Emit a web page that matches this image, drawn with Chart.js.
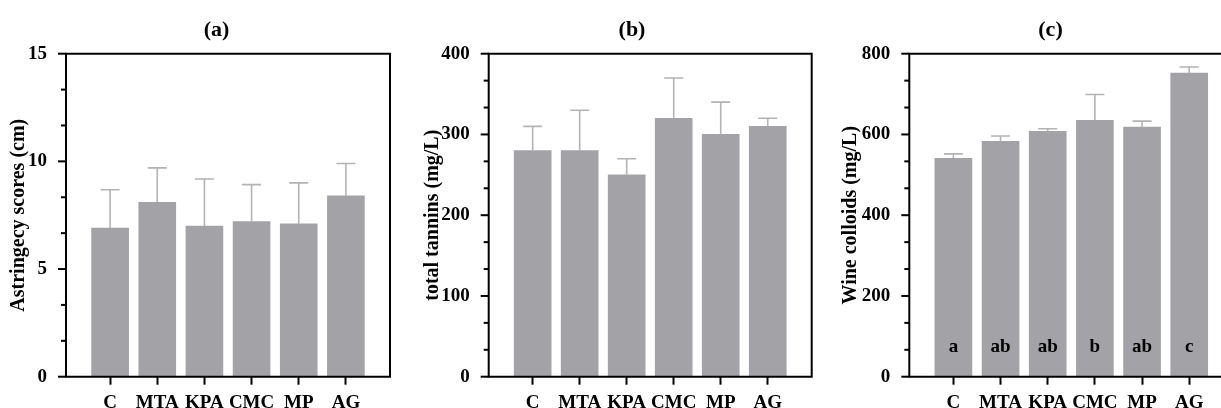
<!DOCTYPE html>
<html>
<head>
<meta charset="utf-8">
<script src="https://cdn.jsdelivr.net/npm/chart.js@4/dist/chart.umd.min.js"></script>
<style>
  html, body { margin: 0; padding: 0; background: #fff; width: 1221px; height: 408px; overflow: hidden; position: relative; }
  canvas { position: absolute; top: 0; }
</style>
</head>
<body>
<canvas id="panelA" width="433" height="408" style="left:0px"></canvas>
<canvas id="panelB" width="444" height="408" style="left:410px"></canvas>
<canvas id="panelC" width="461" height="408" style="left:820px"></canvas>
<script>
// Treatments shared by all three panels
const treatments = ['C', 'MTA', 'KPA', 'CMC', 'MP', 'AG'];

// (a) astringency scores, mean and SD
const astringencyMean = [6.9, 8.1, 7.0, 7.2, 7.1, 8.4];
const astringencySD   = [1.78, 1.6, 2.18, 1.72, 1.9, 1.5];
const astringencyTicks = [0, 5, 10, 15];

// (b) total tannins, mean and SD
const tanninsMean = [280, 280, 250, 320, 300, 310];
const tanninsSD   = [30, 50, 20, 50, 40, 10];
const tanninsTicks = [0, 100, 200, 300, 400];

// (c) wine colloids, mean, SD and significance groups
const colloidsMean = [541, 583, 608, 635, 618, 752];
const colloidsSD   = [11, 13, 6, 64, 15, 15];
const colloidsGroups = ['a', 'ab', 'ab', 'b', 'ab', 'c'];
const colloidsTicks = [0, 200, 400, 600, 800];

const FAMILY = "'Liberation Serif', 'Times New Roman', serif";
const BAR_COLOR = '#a3a2a7';
const ERR_COLOR = '#b3b3b3';

// Frame, y tick marks, error bars, group letters and panel title
const panelDecor = {
  id: 'panelDecor',
  afterDatasetsDraw(chart) {
    const { ctx, chartArea: a, scales: { x, y } } = chart;
    const cfg = chart.options.plugins.panelDecor;
    ctx.save();

    // error bars (upper half)
    ctx.strokeStyle = ERR_COLOR;
    ctx.lineWidth = 1.6;
    cfg.means.forEach((m, i) => {
      const px = x.getPixelForValue(i);
      const y0 = y.getPixelForValue(m);
      const y1 = y.getPixelForValue(m + cfg.sd[i]);
      ctx.beginPath();
      ctx.moveTo(px, y0);
      ctx.lineTo(px, y1);
      ctx.moveTo(px - 9.5, y1);
      ctx.lineTo(px + 9.5, y1);
      ctx.stroke();
    });

    // group letters
    if (cfg.groups) {
      ctx.fillStyle = '#000';
      ctx.font = `bold 19px ${FAMILY}`;
      ctx.textAlign = 'center';
      ctx.textBaseline = 'alphabetic';
      cfg.groups.forEach((g, i) => {
        ctx.fillText(g, x.getPixelForValue(i), a.bottom - 24.5);
      });
    }

    // frame
    ctx.strokeStyle = '#000';
    ctx.lineWidth = 2;
    ctx.beginPath();
    ctx.moveTo(a.left, a.top);
    ctx.lineTo(a.right, a.top);
    ctx.lineTo(a.right, a.bottom);
    ctx.lineTo(a.left, a.bottom);
    ctx.closePath();
    ctx.stroke();

    // y tick marks: long at labelled values, short in between
    y.ticks.forEach(t => {
      const py = y.getPixelForValue(t.value);
      const len = cfg.majors.includes(t.value) ? 8 : 5;
      ctx.beginPath();
      ctx.moveTo(a.left - len, py);
      ctx.lineTo(a.left, py);
      ctx.stroke();
    });

    // panel title
    ctx.fillStyle = '#000';
    ctx.font = `bold 22px ${FAMILY}`;
    ctx.textAlign = 'center';
    ctx.textBaseline = 'middle';
    ctx.fillText(cfg.title, chart.width / 2, 30);
    ctx.restore();
  }
};

function makePanel(id, p) {
  const font = { family: FAMILY, size: 19, weight: 'bold' };
  const titleFont = { family: FAMILY, size: 20, weight: 'bold' };
  const yMax = p.majors[p.majors.length - 1];
  const yStep = p.majors[1] / 3;
  return new Chart(document.getElementById(id), {
    type: 'bar',
    data: {
      datasets: [{
        data: p.means.map((v, i) => ({ x: i, y: v })),
        backgroundColor: BAR_COLOR,
        borderWidth: 0,
        barThickness: 37
      }]
    },
    options: {
      responsive: false,
      animation: false,
      devicePixelRatio: 1,
      layout: { padding: { top: 53.7, right: p.padRight, bottom: 0, left: 0 } },
      plugins: {
        legend: { display: false },
        tooltip: { enabled: false },
        panelDecor: { means: p.means, sd: p.sd, groups: p.groups, majors: p.majors, title: p.title }
      },
      scales: {
        x: {
          type: 'linear',
          min: -0.935,
          max: 5.935,
          offset: false,
          grid: { display: true, offset: false, drawOnChartArea: false, drawTicks: true, tickLength: 8, tickWidth: 2, tickColor: '#000' },
          border: { display: false },
          afterBuildTicks: s => { s.ticks = treatments.map((_, i) => ({ value: i })); },
          ticks: { callback: v => treatments[v], font, color: '#000', padding: 7, autoSkip: false, maxRotation: 0 },
          afterFit: s => { s.height = 408 - 376.7; }
        },
        y: {
          min: 0,
          max: yMax,
          grid: { display: false },
          border: { display: false },
          afterBuildTicks: s => {
            const ticks = [];
            for (let i = 0; i <= (p.majors.length - 1) * 3; i++) {
              const v = i % 3 === 0 ? p.majors[i / 3] : i * yStep;
              ticks.push({ value: v });
            }
            s.ticks = ticks;
          },
          ticks: {
            callback: v => (p.majors.includes(v) ? String(v) : ''),
            font, color: '#000', padding: 11, autoSkip: false
          },
          title: { display: true, text: p.yTitle, font: titleFont, color: '#000', padding: { top: p.titlePad, bottom: 0 } },
          afterFit: s => { s.width = p.axisLeft; }
        }
      }
    },
    plugins: [panelDecor]
  });
}

makePanel('panelA', {
  title: '(a)', yTitle: 'Astringecy scores (cm)',
  means: astringencyMean, sd: astringencySD, majors: astringencyTicks,
  axisLeft: 66, padRight: 43, titlePad: 7
});
makePanel('panelB', {
  title: '(b)', yTitle: 'total tannins (mg/L)',
  means: tanninsMean, sd: tanninsSD, majors: tanninsTicks,
  axisLeft: 78.7, padRight: 42.3, titlePad: 10.4
});
makePanel('panelC', {
  title: '(c)', yTitle: 'Wine colloids (mg/L)',
  means: colloidsMean, sd: colloidsSD, majors: colloidsTicks, groups: colloidsGroups,
  axisLeft: 89.3, padRight: 47.7, titlePad: 18.7
});
</script>
</body>
</html>
